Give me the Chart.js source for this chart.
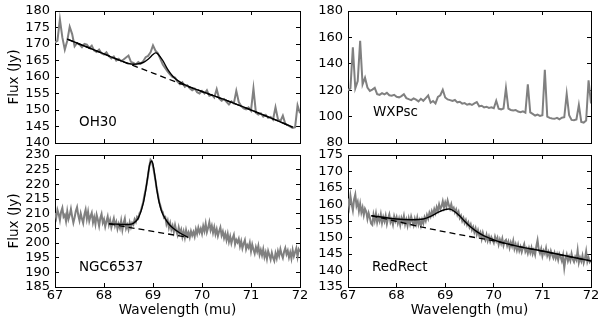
<!DOCTYPE html>
<html>
<head>
<meta charset="utf-8">
<script src="https://cdn.jsdelivr.net/npm/chart.js@4.4.0/dist/chart.umd.min.js"></script>
<style>
  body { margin: 0; background: #fff; }
  #wrap { position: relative; width: 600px; height: 323px; }
  #wrap canvas { position: absolute; left: 0; top: 0; }
</style>
</head>
<body>
<div id="wrap">
  <canvas id="oh30" width="600" height="323"></canvas>
  <canvas id="wxpsc" width="600" height="323"></canvas>
  <canvas id="ngc6537" width="600" height="323"></canvas>
  <canvas id="redrect" width="600" height="323"></canvas>
</div>
<script>
// wavelength grids (mu) of the spectra
var wave = [67.00,67.05,67.10,67.15,67.20,67.25,67.30,67.35,67.40,67.45,
            67.50,67.55,67.60,67.65,67.70,67.75,67.80,67.85,67.90,67.95,
            68.00,68.05,68.10,68.15,68.20,68.25,68.30,68.35,68.40,68.45,
            68.50,68.55,68.60,68.65,68.70,68.75,68.80,68.85,68.90,68.95,
            69.00,69.05,69.10,69.15,69.20,69.25,69.30,69.35,69.40,69.45,
            69.50,69.55,69.60,69.65,69.70,69.75,69.80,69.85,69.90,69.95,
            70.00,70.05,70.10,70.15,70.20,70.25,70.30,70.35,70.40,70.45,
            70.50,70.55,70.60,70.65,70.70,70.75,70.80,70.85,70.90,70.95,
            71.00,71.05,71.10,71.15,71.20,71.25,71.30,71.35,71.40,71.45,
            71.50,71.55,71.60,71.65,71.70,71.75,71.80,71.85,71.90,71.95,
            72.00];
var waveFine = [67.000,67.025,67.050,67.075,67.100,67.125,67.150,67.175,67.200,67.225,
                67.250,67.275,67.300,67.325,67.350,67.375,67.400,67.425,67.450,67.475,
                67.500,67.525,67.550,67.575,67.600,67.625,67.650,67.675,67.700,67.725,
                67.750,67.775,67.800,67.825,67.850,67.875,67.900,67.925,67.950,67.975,
                68.000,68.025,68.050,68.075,68.100,68.125,68.150,68.175,68.200,68.225,
                68.250,68.275,68.300,68.325,68.350,68.375,68.400,68.425,68.450,68.475,
                68.500,68.525,68.550,68.575,68.600,68.625,68.650,68.675,68.700,68.725,
                68.750,68.775,68.800,68.825,68.850,68.875,68.900,68.925,68.950,68.975,
                69.000,69.025,69.050,69.075,69.100,69.125,69.150,69.175,69.200,69.225,
                69.250,69.275,69.300,69.325,69.350,69.375,69.400,69.425,69.450,69.475,
                69.500,69.525,69.550,69.575,69.600,69.625,69.650,69.675,69.700,69.725,
                69.750,69.775,69.800,69.825,69.850,69.875,69.900,69.925,69.950,69.975,
                70.000,70.025,70.050,70.075,70.100,70.125,70.150,70.175,70.200,70.225,
                70.250,70.275,70.300,70.325,70.350,70.375,70.400,70.425,70.450,70.475,
                70.500,70.525,70.550,70.575,70.600,70.625,70.650,70.675,70.700,70.725,
                70.750,70.775,70.800,70.825,70.850,70.875,70.900,70.925,70.950,70.975,
                71.000,71.025,71.050,71.075,71.100,71.125,71.150,71.175,71.200,71.225,
                71.250,71.275,71.300,71.325,71.350,71.375,71.400,71.425,71.450,71.475,
                71.500,71.525,71.550,71.575,71.600,71.625,71.650,71.675,71.700,71.725,
                71.750,71.775,71.800,71.825,71.850,71.875,71.900,71.925,71.950,71.975,
                72.000];

// flux (Jy)
var oh30 = [170.5,171.0,177.5,172.0,168.3,171.0,175.2,173.0,169.3,170.3,
            169.8,169.0,170.0,169.8,168.8,169.5,168.0,167.6,168.3,167.2,
            166.8,167.5,166.3,165.6,166.2,165.0,165.5,164.8,165.3,165.9,
            166.5,164.6,164.3,163.8,164.5,164.0,164.8,166.0,166.4,167.5,
            169.6,168.0,167.2,165.5,163.8,162.7,161.6,160.7,160.0,159.8,
            158.6,157.8,158.4,157.0,157.5,156.6,156.0,156.5,155.4,155.0,
            155.8,155.0,156.0,154.3,154.6,153.8,156.3,153.5,152.8,153.3,
            152.5,151.7,152.6,152.0,155.8,152.4,151.2,150.5,150.2,150.8,
            149.8,156.5,149.2,148.6,149.0,148.0,148.5,147.6,147.9,147.1,
            150.8,147.2,146.6,148.3,145.8,145.4,145.0,144.6,144.8,151.4,
            149.0];
var oh30FitX  = [67.25,68.0,68.5,68.65,68.8,68.9,69.0,69.05,69.1,69.2,69.3,69.4,69.5,69.7,70.0,70.5,71.0,71.5,71.85];
var oh30FitY  = [171.5,167.0,164.1,163.9,164.4,165.4,166.8,167.3,167.0,165.0,162.3,160.3,159.0,157.3,155.6,152.9,150.0,147.0,144.8];
var oh30BaseX = [67.25,68.0,68.5,69.0,69.5,70.0,70.5,71.0,71.5,71.85];
var oh30BaseY = [171.5,167.0,164.0,161.2,158.3,155.6,152.9,150.0,147.0,144.8];

var wxpsc = [119.8,121.5,152.5,121.5,127.0,157.5,124.5,129.5,122.0,119.5,
             120.5,121.8,117.0,116.5,117.8,116.8,118.0,116.2,115.8,116.5,
             115.0,114.6,115.5,117.0,114.0,113.2,112.5,113.8,112.8,111.5,
             113.5,112.0,114.0,116.0,110.5,111.8,110.0,115.0,116.2,120.3,
             114.5,113.0,112.5,111.8,112.6,110.8,111.2,109.8,110.2,109.0,
             109.6,108.8,110.0,111.0,107.8,108.2,107.0,107.5,106.6,107.0,
             106.3,112.0,106.0,105.5,106.2,121.5,106.0,105.0,104.6,105.0,
             103.8,103.3,104.0,103.0,124.5,103.2,102.0,100.8,101.5,100.5,
             101.0,135.5,100.0,99.0,98.6,98.3,99.0,98.0,99.2,99.5,
             117.2,101.0,97.5,97.2,97.8,108.8,96.0,95.5,97.0,127.5,
             110.0];

var ngc6537 = [210.2,208.6,211.3,209.9,207.8,210.7,212.0,208.9,209.6,207.4,
               210.8,208.1,209.5,211.6,209.0,206.9,208.7,210.9,212.2,209.4,
               207.6,210.1,208.3,206.8,209.7,211.4,208.2,210.6,207.5,209.1,
               210.3,207.0,208.8,206.4,209.6,207.9,205.8,208.5,209.9,206.9,
               208.1,205.6,207.4,209.0,206.2,207.8,205.3,206.9,208.4,205.9,
               207.2,204.8,206.5,205.1,207.6,204.5,206.8,208.3,205.0,206.2,
               204.6,207.0,205.4,206.9,206.3,208.1,207.2,208.9,208.4,210.2,
               210.8,212.4,213.9,216.3,218.2,220.6,223.1,226.2,228.4,227.9,
               226.1,223.8,221.4,218.5,216.6,214.1,212.8,211.2,210.5,208.6,
               208.9,206.4,207.7,205.2,206.8,204.6,205.9,203.8,206.1,204.2,
               202.8,205.3,203.4,204.6,202.1,203.9,201.8,204.4,202.5,203.6,
               201.9,204.0,202.6,203.8,202.2,204.7,203.1,205.2,203.6,204.9,
               203.2,205.8,204.1,206.6,203.7,205.2,207.1,204.4,205.9,203.5,
               205.4,203.0,204.7,202.4,204.0,205.3,202.6,203.9,201.7,203.2,
               201.0,203.1,200.4,202.2,199.9,201.6,202.8,199.6,201.1,200.2,
               201.4,198.9,200.6,198.2,199.8,201.0,197.9,199.3,198.4,200.1,
               197.2,199.5,197.8,196.4,198.6,197.1,199.0,196.0,197.6,195.8,
               197.9,195.2,196.8,194.6,197.3,195.9,194.4,196.7,195.0,193.9,
               196.5,194.8,197.2,195.6,197.9,196.1,194.9,197.0,198.3,196.2,
               197.4,195.1,196.8,194.7,197.6,195.5,196.9,198.2,195.3,197.8,
               197.0];
var ngcFitX  = [68.1,68.3,68.5,68.6,68.7,68.8,68.87,68.93,68.97,69.0,69.05,69.1,69.15,69.2,69.3,69.4,69.55,69.72];
var ngcFitY  = [206.6,206.4,206.3,206.7,208.5,213.5,220.0,226.5,228.0,226.8,221.5,216.0,212.2,209.8,207.0,205.2,203.4,201.9];
var ngcBaseX = [68.1,69.72];
var ngcBaseY = [206.5,201.9];

var redrect = [161.8,159.4,162.6,160.1,158.2,161.5,163.0,159.6,160.8,158.0,
               160.2,157.6,159.1,156.8,158.7,157.9,155.6,157.4,156.0,154.2,
               153.8,156.9,155.1,157.2,154.6,156.3,155.0,157.0,154.4,156.2,
               154.9,156.6,154.1,155.8,157.0,154.6,155.5,153.9,156.4,155.0,
               156.2,154.3,155.7,153.8,155.9,154.7,156.5,154.0,155.4,153.6,
               155.8,154.2,156.3,154.9,153.7,155.6,154.1,156.0,153.9,155.2,
               153.6,155.4,154.3,156.1,155.0,156.8,155.7,157.5,156.4,158.0,
               156.9,158.6,157.4,159.2,158.1,160.0,158.6,159.4,161.0,159.1,
               160.6,159.3,161.2,159.8,158.7,160.1,158.4,159.0,157.6,158.5,
               156.9,157.8,155.9,156.6,155.0,155.9,154.4,155.3,153.8,154.6,
               153.1,154.0,152.3,153.2,151.6,152.8,150.9,152.2,150.6,151.5,
               149.6,151.4,150.0,149.2,150.8,149.0,150.3,148.8,150.1,149.3,
               148.4,150.2,148.9,149.9,147.9,149.4,148.2,149.7,147.6,148.9,
               149.3,147.5,148.7,146.9,148.5,147.3,149.0,146.6,147.9,146.2,
               147.8,146.0,147.2,145.6,146.9,148.0,145.7,146.6,145.2,146.8,
               145.4,146.9,145.0,146.2,144.8,147.4,149.2,146.3,145.2,146.6,
               144.4,146.0,145.1,146.8,144.5,145.6,144.0,145.9,144.7,143.8,
               145.3,143.7,144.9,143.2,145.0,144.1,142.9,144.6,140.8,143.5,
               144.8,142.9,144.2,143.0,145.1,143.4,142.6,144.1,143.2,146.1,
               142.4,143.9,142.8,144.5,142.3,143.6,145.8,142.7,143.9,142.6,
               143.2];
var redFitX  = [67.48,68.0,68.3,68.55,68.7,68.85,69.0,69.1,69.2,69.3,69.4,69.5,69.65,69.8,70.0,70.15,70.5,71.0,71.5,72.0];
var redFitY  = [156.6,155.6,155.4,155.6,156.4,157.6,158.5,158.6,157.8,156.5,154.9,153.5,151.8,150.5,149.3,148.6,147.3,145.9,144.4,142.9];
var redBaseX = [67.48,68.0,68.5,69.0,69.5,70.0,70.5,71.0,71.5,72.0];
var redBaseY = [156.6,154.9,153.2,151.7,150.3,149.0,147.3,145.9,144.4,142.9];

var font = 'DejaVu Sans';

function pts(xs, ys) {
    return xs.map(function (x, i) { return {x: x, y: ys[i]}; });
}

var panelLabel = {
    id: 'panelLabel',
    afterDatasetsDraw: function (chart, args, opts) {
        var ctx = chart.ctx, a = chart.chartArea;
        ctx.save();
        ctx.font = '13.5px "' + font + '"';
        ctx.fillStyle = '#000';
        ctx.textBaseline = 'middle';
        ctx.fillText(opts.text, a.left + opts.dx, a.bottom - opts.dy);
        ctx.restore();
    }
};

function fixW(w) {
    return function (s) { s.width = w; s.paddingTop = 0; s.paddingBottom = 0; };
}
function fixH(h) {
    return function (s) { s.height = h; s.paddingLeft = 0; s.paddingRight = 0; };
}

function axis(pos, min, max, step, size, showLabels, title) {
    var horiz = pos === 'top' || pos === 'bottom';
    return {
        type: 'linear',
        position: pos,
        min: min,
        max: max,
        ticks: {
            stepSize: step,
            display: showLabels,
            autoSkip: false,
            color: '#000',
            padding: horiz ? 5 : 9,
            font: {family: font, size: 13}
        },
        grid: {drawOnChartArea: false, tickLength: -4, color: '#000', lineWidth: 1},
        border: {color: '#000', width: 1},
        title: {
            display: !!title,
            text: title || '',
            color: '#000',
            font: {family: font, size: 13.6},
            padding: horiz ? {top: 0, bottom: 4.6} : {top: 6.4, bottom: 0}
        },
        afterFit: horiz ? fixH(size) : fixW(size)
    };
}

function panel(id, box, ymin, ymax, ystep, xs, flux, fit, base, label, bottomRow, leftCol) {
    var datasets = [];
    if (fit) {
        datasets.push({data: fit, borderColor: '#000', borderWidth: 1.4, pointRadius: 0, tension: 0.3});
        datasets.push({data: base, borderColor: '#000', borderWidth: 1.3, borderDash: [6, 4], pointRadius: 0, tension: 0});
    }
    datasets.push({data: pts(xs, flux), borderColor: '#808080', borderWidth: 2, pointRadius: 0, tension: 0});

    new Chart(document.getElementById(id), {
        type: 'line',
        data: {datasets: datasets},
        plugins: [panelLabel],
        options: {
            responsive: false,
            animation: false,
            events: [],
            layout: {padding: 0},
            plugins: {
                legend: {display: false},
                tooltip: {enabled: false},
                panelLabel: label
            },
            scales: {
                x:  axis('bottom', 67, 72, 1, 323 - box.bottom, bottomRow, bottomRow ? 'Wavelength (mu)' : null),
                x2: axis('top', 67, 72, 1, box.top, false, null),
                y:  axis('left', ymin, ymax, ystep, box.left, true, leftCol ? 'Flux (Jy)' : null),
                y2: axis('right', ymin, ymax, ystep, 600 - box.right, false, null)
            }
        }
    });
}

panel('oh30', {left: 55, top: 11, right: 300, bottom: 143}, 140, 180, 5, wave, oh30,
      pts(oh30FitX, oh30FitY), pts(oh30BaseX, oh30BaseY), {text: 'OH30', dx: 24, dy: 21}, false, true);
panel('wxpsc', {left: 348, top: 11, right: 591, bottom: 143}, 80, 180, 20, wave, wxpsc,
      null, null, {text: 'WXPsc', dx: 25, dy: 31}, false, false);
panel('ngc6537', {left: 55, top: 155, right: 300, bottom: 287}, 185, 230, 5, waveFine, ngc6537,
      pts(ngcFitX, ngcFitY), pts(ngcBaseX, ngcBaseY), {text: 'NGC6537', dx: 24, dy: 20}, true, true);
panel('redrect', {left: 348, top: 155, right: 591, bottom: 287}, 135, 175, 5, waveFine, redrect,
      pts(redFitX, redFitY), pts(redBaseX, redBaseY), {text: 'RedRect', dx: 24, dy: 20}, true, false);
</script>
</body>
</html>
